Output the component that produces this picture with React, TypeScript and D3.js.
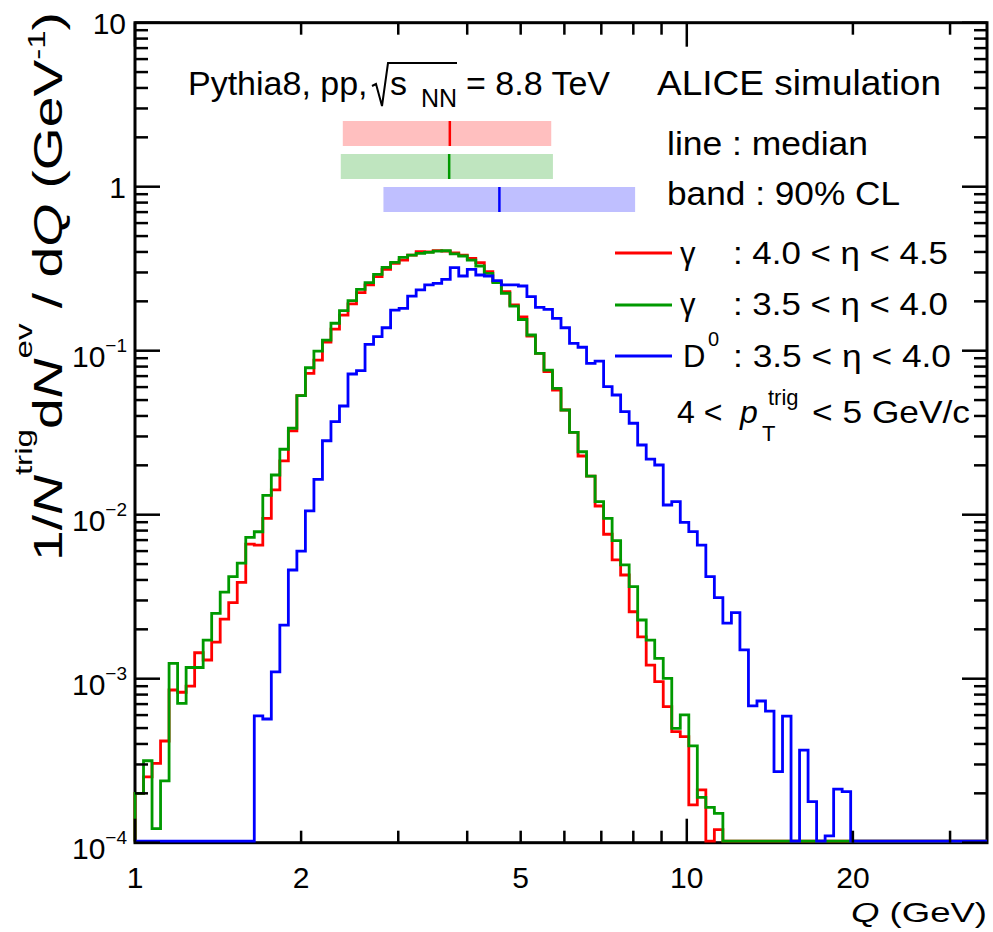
import React from 'react';
import * as d3 from 'd3';

// ---------------- data ----------------
const Q_LOW = 1;
const Q_HIGH = 35;
const N_BINS = 100;

const gammaFwd: number[] = [
  2.0e-4, 2.52e-4, 3.05e-4, 4.17e-4, 8.53e-4, 8.27e-4, 9.02e-4, 1.44e-3, 1.30e-3, 1.67e-3,
  2.31e-3, 2.91e-3, 3.87e-3, 6.62e-3, 6.53e-3, 9.5e-3, 0.01416, 0.0213, 0.0324, 0.0532,
  0.0728, 0.0877, 0.113, 0.1355, 0.165, 0.193, 0.226, 0.252, 0.2826, 0.313,
  0.341, 0.357, 0.383, 0.402, 0.40, 0.408, 0.405, 0.395, 0.382, 0.365,
  0.344, 0.3034, 0.2636, 0.229, 0.190, 0.161, 0.1229, 0.0964, 0.0745, 0.0576,
  0.0435, 0.0318, 0.0228, 0.0172, 0.0113, 0.0076, 0.0053, 0.00429, 0.00256, 0.0018,
  0.00121, 0.00096, 0.000675, 0.000475, 0.000443, 0.00017, 0.00021, 0, 0.00012, 0,
  0, 0, 0, 0, 0, 0, 0, 0, 0, 0,
  0, 0, 0, 0, 0, 0, 0, 0, 0, 0,
  0, 0, 0, 0, 0, 0, 0, 0, 0, 0,
];

const gammaMid: number[] = [
  2.0e-4, 3.16e-4, 1.22e-4, 2.38e-4, 1.24e-3, 7.08e-4, 1.17e-3, 1.17e-3, 1.72e-3, 2.5e-3,
  3.37e-3, 4.19e-3, 5.06e-3, 7.28e-3, 7.87e-3, 0.0131, 0.01746, 0.02506, 0.03365, 0.0532,
  0.0787, 0.0995, 0.116, 0.147, 0.1755, 0.2018, 0.2366, 0.26, 0.2924, 0.3225,
  0.346, 0.371, 0.383, 0.3926, 0.398, 0.405, 0.407, 0.389, 0.378, 0.357,
  0.3285, 0.2965, 0.26, 0.224, 0.187, 0.155, 0.1247, 0.0964, 0.0762, 0.059,
  0.0435, 0.0318, 0.0242, 0.0172, 0.012, 0.0095, 0.00694, 0.00494, 0.00364, 0.00228,
  0.00172, 0.00133, 0.001005, 0.000498, 0.000601, 0.000389, 0.000189, 0.000164, 0.000151, 0,
  0, 0, 0, 0, 0, 0, 0, 0, 0, 0,
  0, 0, 0, 0, 0, 0, 0, 0, 0, 0,
  0, 0, 0, 0, 0, 0, 0, 0, 0, 0,
];

const dZero: number[] = [
  0, 0, 0, 0, 0, 0, 0, 0, 0, 0,
  0, 0, 0, 0, 5.94e-4, 5.68e-4, 1.1e-3, 2.12e-3, 4.6e-3, 6.0e-3,
  0.01054, 0.01644, 0.02825, 0.0369, 0.046, 0.0721, 0.0755, 0.1094, 0.1217, 0.138,
  0.177, 0.181, 0.2153, 0.235, 0.252, 0.2576, 0.2723, 0.3209, 0.2854, 0.313,
  0.2895, 0.2854, 0.2673, 0.252, 0.252, 0.248, 0.2136, 0.1838, 0.1788, 0.1576,
  0.138, 0.1109, 0.105, 0.0838, 0.0865, 0.0604, 0.0537, 0.0425, 0.0361, 0.0266,
  0.0218, 0.0201, 0.01146, 0.012, 0.00898, 0.00788, 0.00653, 0.00419, 0.00312, 0.00218,
  0.00253, 0.0015, 0.000682, 0.000731, 0.000635, 0.000271, 0.000592, 0, 0.000367, 0.000178,
  0, 0.00011, 0.000212, 0.000205, 0, 0, 0, 0, 0, 0,
  0, 0, 0, 0, 0, 0, 0, 0, 0, 0,
];

const seriesColors = ['#ff0000', '#009900', '#0000ff'];
const bandColors = ['#ffbfbf', '#bfe5bf', '#bfbfff'];
const bandLow = [2.38, 2.36, 2.82];
const bandHigh = [5.68, 5.72, 8.06];
const bandMedian = [3.72, 3.71, 4.575];

const xTickLabels = [1, 2, 5, 10, 20];
const xMinorTicks = [2, 3, 4, 5, 6, 7, 8, 9, 20, 30];
const xMajorTicks = [1, 10];
const yExponents = [1, 0, -1, -2, -3, -4];

// ---------------- layout ----------------
const W = 993;
const H = 932;
const PL = 135;
const PR = 987;
const PT = 22.7;
const PB = 842.7;
const FONT = "'Liberation Sans', Arial, Helvetica, sans-serif";

export default function App() {
  const x = d3.scaleLog().domain([Q_LOW, Q_HIGH]).range([PL, PR]);
  const y = d3.scaleLog().domain([1e-4, 10]).range([PB, PT]);
  const yMin = 1e-4;

  const edges = d3.range(N_BINS + 1).map((i) => Q_LOW * Math.pow(Q_HIGH / Q_LOW, i / N_BINS));

  const histPath = (vals: number[]) => {
    const pts: [number, number][] = [[edges[0], 0]];
    vals.forEach((v, i) => pts.push([edges[i], v]));
    pts.push([edges[N_BINS], vals[N_BINS - 1]]);
    const line = d3
      .line<[number, number]>()
      .x((d) => x(d[0]))
      .y((d) => (d[1] <= yMin ? y(yMin) - 1.5 : y(d[1])))
      .curve(d3.curveStepAfter);
    return line(pts) || '';
  };

  const series = [gammaFwd, gammaMid, dZero];

  const yMinor: number[] = [];
  for (let k = -4; k <= 0; k++) for (let m = 2; m <= 9; m++) yMinor.push(m * Math.pow(10, k));
  const yMajor = yExponents.map((e) => Math.pow(10, e));

  const bandY = [121, 154, 187];
  const bandH = 25;
  const legendY = [253, 305, 356];

  return (
    <svg
      width={W}
      height={H}
      style={{ position: 'absolute', left: 0, top: 0, background: '#fff' }}
      fontFamily={FONT}
    >
      <rect x={0} y={0} width={W} height={H} fill="#fff" />

      {/* frame */}
      <rect x={PL} y={PT} width={PR - PL} height={PB - PT} fill="none" stroke="#000" strokeWidth={3} />

      {/* histograms */}
      {series.map((s, i) => (
        <path key={i} d={histPath(s)} fill="none" stroke={seriesColors[i]} strokeWidth={2.8} />
      ))}

      {/* y ticks */}
      {yMajor.map((v, i) => (
        <g key={'yM' + i}>
          <line x1={PL} x2={PL + 25} y1={y(v)} y2={y(v)} stroke="#000" strokeWidth={2.5} />
          <line x1={PR} x2={PR - 25} y1={y(v)} y2={y(v)} stroke="#000" strokeWidth={2.5} />
        </g>
      ))}
      {yMinor.map((v, i) => (
        <g key={'ym' + i}>
          <line x1={PL} x2={PL + 13} y1={y(v)} y2={y(v)} stroke="#000" strokeWidth={2.5} />
          <line x1={PR} x2={PR - 13} y1={y(v)} y2={y(v)} stroke="#000" strokeWidth={2.5} />
        </g>
      ))}

      {/* x ticks */}
      {xMajorTicks.map((v, i) => (
        <g key={'xM' + i}>
          <line x1={x(v)} x2={x(v)} y1={PB} y2={PB - 24} stroke="#000" strokeWidth={2.5} />
          <line x1={x(v)} x2={x(v)} y1={PT} y2={PT + 24} stroke="#000" strokeWidth={2.5} />
        </g>
      ))}
      {xMinorTicks.map((v, i) => (
        <g key={'xm' + i}>
          <line x1={x(v)} x2={x(v)} y1={PB} y2={PB - 12} stroke="#000" strokeWidth={2.5} />
          <line x1={x(v)} x2={x(v)} y1={PT} y2={PT + 12} stroke="#000" strokeWidth={2.5} />
        </g>
      ))}

      {/* y tick labels */}
      {yExponents.map((e, i) => {
        const yy = y(Math.pow(10, e));
        if (e === 1)
          return (
            <text key={'yl' + i} x={126} y={yy + 11} fontSize={30} textAnchor="end">10</text>
          );
        if (e === 0)
          return (
            <text key={'yl' + i} x={126} y={yy + 11} fontSize={30} textAnchor="end">1</text>
          );
        return (
          <text key={'yl' + i} x={127} y={yy + 16} fontSize={30} textAnchor="end">
            10<tspan fontSize={19} dy={-15}>{'\u2212' + Math.abs(e)}</tspan>
          </text>
        );
      })}

      {/* x tick labels */}
      {xTickLabels.map((v, i) => (
        <text key={'xl' + i} x={x(v)} y={888} fontSize={30} textAnchor="middle">{v}</text>
      ))}

      {/* axis titles */}
      <text x={PR} y={922} fontSize={28} textAnchor="end" textLength={136} lengthAdjust="spacingAndGlyphs">
        <tspan fontStyle="italic">Q</tspan> (GeV)
      </text>
      <text transform="translate(62,12) rotate(-90) scale(1.38,1)" fontSize={40} textAnchor="end">
        1/<tspan fontStyle="italic">N</tspan>
        <tspan fontSize={24} dy={-30}>trig</tspan>
        <tspan dy={30}>d</tspan>
        <tspan fontStyle="italic">N</tspan>
        <tspan fontSize={24} dy={-30}>ev</tspan>
        <tspan dy={30}> / d</tspan>
        <tspan fontStyle="italic">Q</tspan>
        <tspan> (GeV</tspan>
        <tspan fontSize={24} dy={-17}>-1</tspan>
        <tspan dy={17}>)</tspan>
      </text>

      {/* bands */}
      {bandLow.map((lo, i) => (
        <g key={'band' + i}>
          <rect x={x(lo)} y={bandY[i]} width={x(bandHigh[i]) - x(lo)} height={bandH} fill={bandColors[i]} />
          <line
            x1={x(bandMedian[i])}
            x2={x(bandMedian[i])}
            y1={bandY[i]}
            y2={bandY[i] + bandH}
            stroke={seriesColors[i]}
            strokeWidth={2.5}
          />
        </g>
      ))}

      {/* header */}
      <text x={188} y={95} fontSize={34}>Pythia8, pp,</text>
      <path d="M372,86 L376,84 L382,106 L388,63 L457,63" fill="none" stroke="#000" strokeWidth={2} />
      <text x={390} y={95} fontSize={34}>s</text>
      <text x={421} y={107} fontSize={25}>NN</text>
      <text x={466} y={95} fontSize={34}>= 8.8 TeV</text>
      <text x={657} y={95} fontSize={35} textLength={284} lengthAdjust="spacingAndGlyphs">ALICE simulation</text>
      <text x={667} y={155} fontSize={34} textLength={201} lengthAdjust="spacingAndGlyphs">line : median</text>
      <text x={667} y={205} fontSize={34} textLength={233} lengthAdjust="spacingAndGlyphs">band : 90% CL</text>

      {/* legend */}
      {legendY.map((ly, i) => (
        <line key={'ll' + i} x1={615} x2={672} y1={ly} y2={ly} stroke={seriesColors[i]} strokeWidth={3} />
      ))}
      <text x={680} y={263.5} fontSize={31}>γ</text>
      <text x={733} y={263.5} fontSize={31} textLength={215} lengthAdjust="spacingAndGlyphs">: 4.0 &lt; η &lt; 4.5</text>
      <text x={680} y={315} fontSize={31}>γ</text>
      <text x={733} y={315} fontSize={31} textLength={215} lengthAdjust="spacingAndGlyphs">: 3.5 &lt; η &lt; 4.0</text>
      <text x={683} y={367} fontSize={31}>D</text>
      <text x={708} y={346} fontSize={20}>0</text>
      <text x={733} y={367} fontSize={31} textLength={218} lengthAdjust="spacingAndGlyphs">: 3.5 &lt; η &lt; 4.0</text>

      <text x={677} y={423} fontSize={32}>4 &lt;</text>
      <text x={740} y={423} fontSize={32} fontStyle="italic">p</text>
      <text x={762} y={441} fontSize={22}>T</text>
      <text x={768} y={405} fontSize={22}>trig</text>
      <text x={812} y={423} fontSize={32} textLength={158} lengthAdjust="spacingAndGlyphs">&lt; 5 GeV/c</text>
    </svg>
  );
}
